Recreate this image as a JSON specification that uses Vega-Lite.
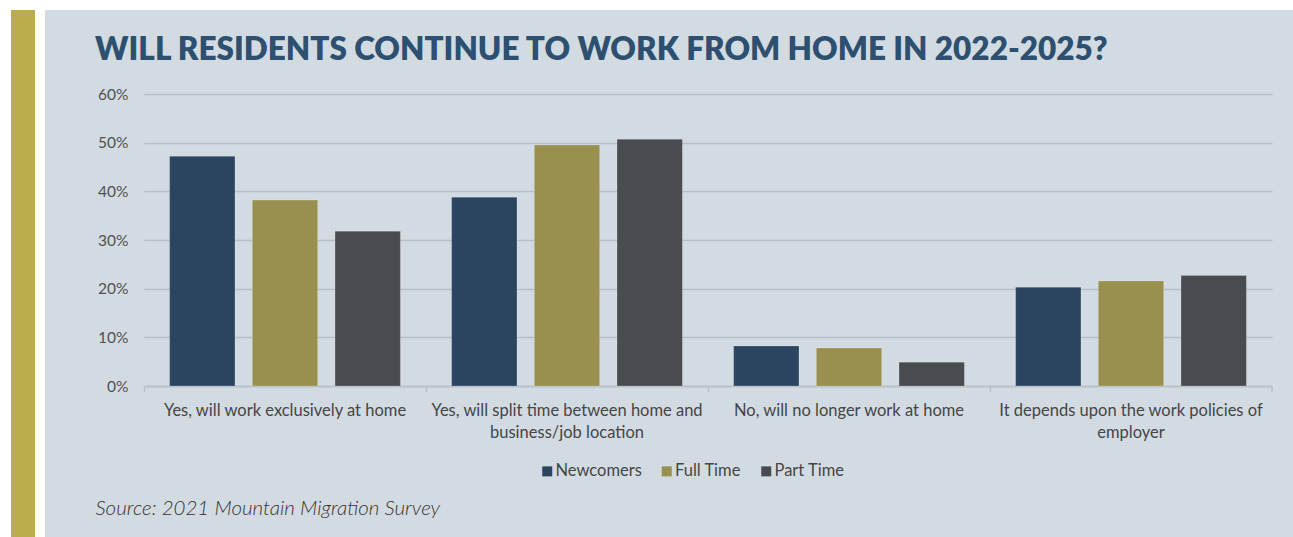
{
  "$schema": "https://vega.github.io/schema/vega-lite/v6.json",
  "background": "#d3dbe2",
  "padding": 0,
  "spacing": 0,
  "columns": 6,
  "bounds": "flush",
  "align": "each",
  "config": {
    "view": {"stroke": null},
    "concat": {"spacing": 0}
  },
  "concat": [
    {"width": 11, "height": 10, "data": {"values": []}, "mark": "rect", "encoding": {}, "view": {"fill": "#ffffff", "stroke": null}},
    {"width": 24, "height": 10, "data": {"values": []}, "mark": "rect", "encoding": {}, "view": {"fill": "#ffffff", "stroke": null}},
    {"width": 10, "height": 10, "data": {"values": []}, "mark": "rect", "encoding": {}, "view": {"fill": "#ffffff", "stroke": null}},
    {"width": 99, "height": 10, "data": {"values": []}, "mark": "rect", "encoding": {}, "view": {"fill": "#ffffff", "stroke": null}},
    {"width": 1128, "height": 10, "data": {"values": []}, "mark": "rect", "encoding": {}, "view": {"fill": "#ffffff", "stroke": null}},
    {"width": 21, "height": 10, "data": {"values": []}, "mark": "rect", "encoding": {}, "view": {"fill": "#ffffff", "stroke": null}},

    {"width": 11, "height": 84, "data": {"values": []}, "mark": "rect", "encoding": {}, "view": {"fill": "#ffffff", "stroke": null}},
    {"width": 24, "height": 84, "data": {"values": []}, "mark": "rect", "encoding": {}, "view": {"fill": "#bbad4b", "stroke": null}},
    {"width": 10, "height": 84, "data": {"values": []}, "mark": "rect", "encoding": {}, "view": {"fill": "#ffffff", "stroke": null}},
    {"width": 99, "height": 84, "data": {"values": []}, "mark": "rect", "encoding": {}, "view": {"stroke": null}},
    {"width": 1128, "height": 84, "data": {"values": []}, "mark": "rect", "encoding": {}, "view": {"stroke": null}},
    {"width": 21, "height": 84, "data": {"values": []}, "mark": "rect", "encoding": {}, "view": {"stroke": null}},

    {"width": 11, "height": 443, "data": {"values": []}, "mark": "rect", "encoding": {}, "view": {"fill": "#ffffff", "stroke": null}},
    {"width": 24, "height": 443, "data": {"values": []}, "mark": "rect", "encoding": {}, "view": {"fill": "#bbad4b", "stroke": null}},
    {"width": 10, "height": 443, "data": {"values": []}, "mark": "rect", "encoding": {}, "view": {"fill": "#ffffff", "stroke": null}},
    {"width": 99, "height": 443, "data": {"values": []}, "mark": "rect", "encoding": {}, "view": {"stroke": null}},
    {
      "width": 1128,
      "height": 292,
      "title": {
        "text": "WILL RESIDENTS CONTINUE TO WORK FROM HOME IN 2022-2025?",
        "anchor": "start",
        "frame": "group",
        "dx": -49,
        "offset": -4,
        "baseline": "alphabetic",
        "font": "Lato",
        "fontWeight": 800,
        "fontSize": 31.5,
        "color": "#2e5070"
      },
      "data": {
        "values": [
          {"answer": "Yes, will work exclusively at home", "group": "Newcomers", "share": 0.472},
          {"answer": "Yes, will work exclusively at home", "group": "Full Time", "share": 0.382},
          {"answer": "Yes, will work exclusively at home", "group": "Part Time", "share": 0.318},
          {"answer": "Yes, will split time between home and business/job location", "group": "Newcomers", "share": 0.388},
          {"answer": "Yes, will split time between home and business/job location", "group": "Full Time", "share": 0.495},
          {"answer": "Yes, will split time between home and business/job location", "group": "Part Time", "share": 0.507},
          {"answer": "No, will no longer work at home", "group": "Newcomers", "share": 0.082},
          {"answer": "No, will no longer work at home", "group": "Full Time", "share": 0.078},
          {"answer": "No, will no longer work at home", "group": "Part Time", "share": 0.049},
          {"answer": "It depends upon the work policies of employer", "group": "Newcomers", "share": 0.203},
          {"answer": "It depends upon the work policies of employer", "group": "Full Time", "share": 0.216},
          {"answer": "It depends upon the work policies of employer", "group": "Part Time", "share": 0.227}
        ]
      },
      "layer": [
        {
          "mark": {"type": "bar", "stroke": "#ffffff", "strokeOpacity": 0.18, "strokeWidth": 1},
          "encoding": {
            "x": {
              "field": "answer",
              "type": "nominal",
              "sort": null,
              "scale": {"paddingInner": 0, "paddingOuter": 0},
              "axis": {
                "title": "Source: 2021 Mountain Migration Survey",
                "titleX": -49,
                "titleY": 128,
                "titleAlign": "left",
                "titleBaseline": "alphabetic",
                "titleFont": "Lato",
                "titleFontStyle": "italic",
                "titleFontWeight": 300,
                "titleFontSize": 20.5,
                "titleColor": "#333333",
                "bandPosition": 0,
                "domainColor": "#b8bfc6",
                "domainWidth": 1.5,
                "tickColor": "#b8bfc6",
                "tickWidth": 1.5,
                "tickSize": 6,
                "labelAngle": 0,
                "labelAlign": "center",
                "labelBaseline": "top",
                "labelPadding": 10,
                "labelFont": "Lato",
                "labelFontSize": 16.5,
                "labelColor": "#454545",
                "labelLimit": 400,
                "labelOverlap": false,
                "labelBound": false,
                "labelLineHeight": 22,
                "labelExpr": "datum.value == 'Yes, will split time between home and business/job location' ? ['Yes, will split time between home and', 'business/job location'] : datum.value == 'It depends upon the work policies of employer' ? ['It depends upon the work policies of', 'employer'] : datum.value"
              }
            },
            "xOffset": {
              "field": "group",
              "type": "nominal",
              "sort": ["Newcomers", "Full Time", "Part Time"],
              "scale": {"paddingInner": 0.21, "paddingOuter": 0.31}
            },
            "y": {
              "field": "share",
              "type": "quantitative",
              "scale": {"domain": [0, 0.6], "nice": false},
              "axis": {
                "title": null,
                "values": [0, 0.1, 0.2, 0.3, 0.4, 0.5, 0.6],
                "format": ".0%",
                "domain": false,
                "ticks": false,
                "grid": true,
                "gridColor": "#b8bfc6",
                "gridWidth": 1.5,
                "labelPadding": 16,
                "labelFont": "Lato",
                "labelFontSize": 15.5,
                "labelColor": "#505050"
              }
            },
            "color": {
              "field": "group",
              "type": "nominal",
              "sort": ["Newcomers", "Full Time", "Part Time"],
              "scale": {"domain": ["Newcomers", "Full Time", "Part Time"], "range": ["#2b4560", "#999050", "#484b50"]},
              "legend": {
                "title": null,
                "orient": "none",
                "direction": "horizontal",
                "legendX": 539,
                "legendY": 463,
                "padding": 0,
                "symbolType": "square",
                "symbolSize": 100,
                "symbolStrokeWidth": 0,
                "labelOffset": 0,
                "columnPadding": 16.5,
                "labelFont": "Lato",
                "labelFontSize": 16.5,
                "labelColor": "#454545"
              }
            }
          }
        },
        {
          "data": {"values": [{"answer": "It depends upon the work policies of employer", "from": 0, "to": -0.0123}]},
          "mark": {"type": "rule", "color": "#b8bfc6", "strokeWidth": 1.5},
          "encoding": {
            "x": {"field": "answer", "type": "nominal", "sort": null, "bandPosition": 1},
            "y": {"field": "from", "type": "quantitative"},
            "y2": {"field": "to"}
          }
        }
      ]
    },
    {"width": 21, "height": 443, "data": {"values": []}, "mark": "rect", "encoding": {}, "view": {"stroke": null}}
  ]
}
